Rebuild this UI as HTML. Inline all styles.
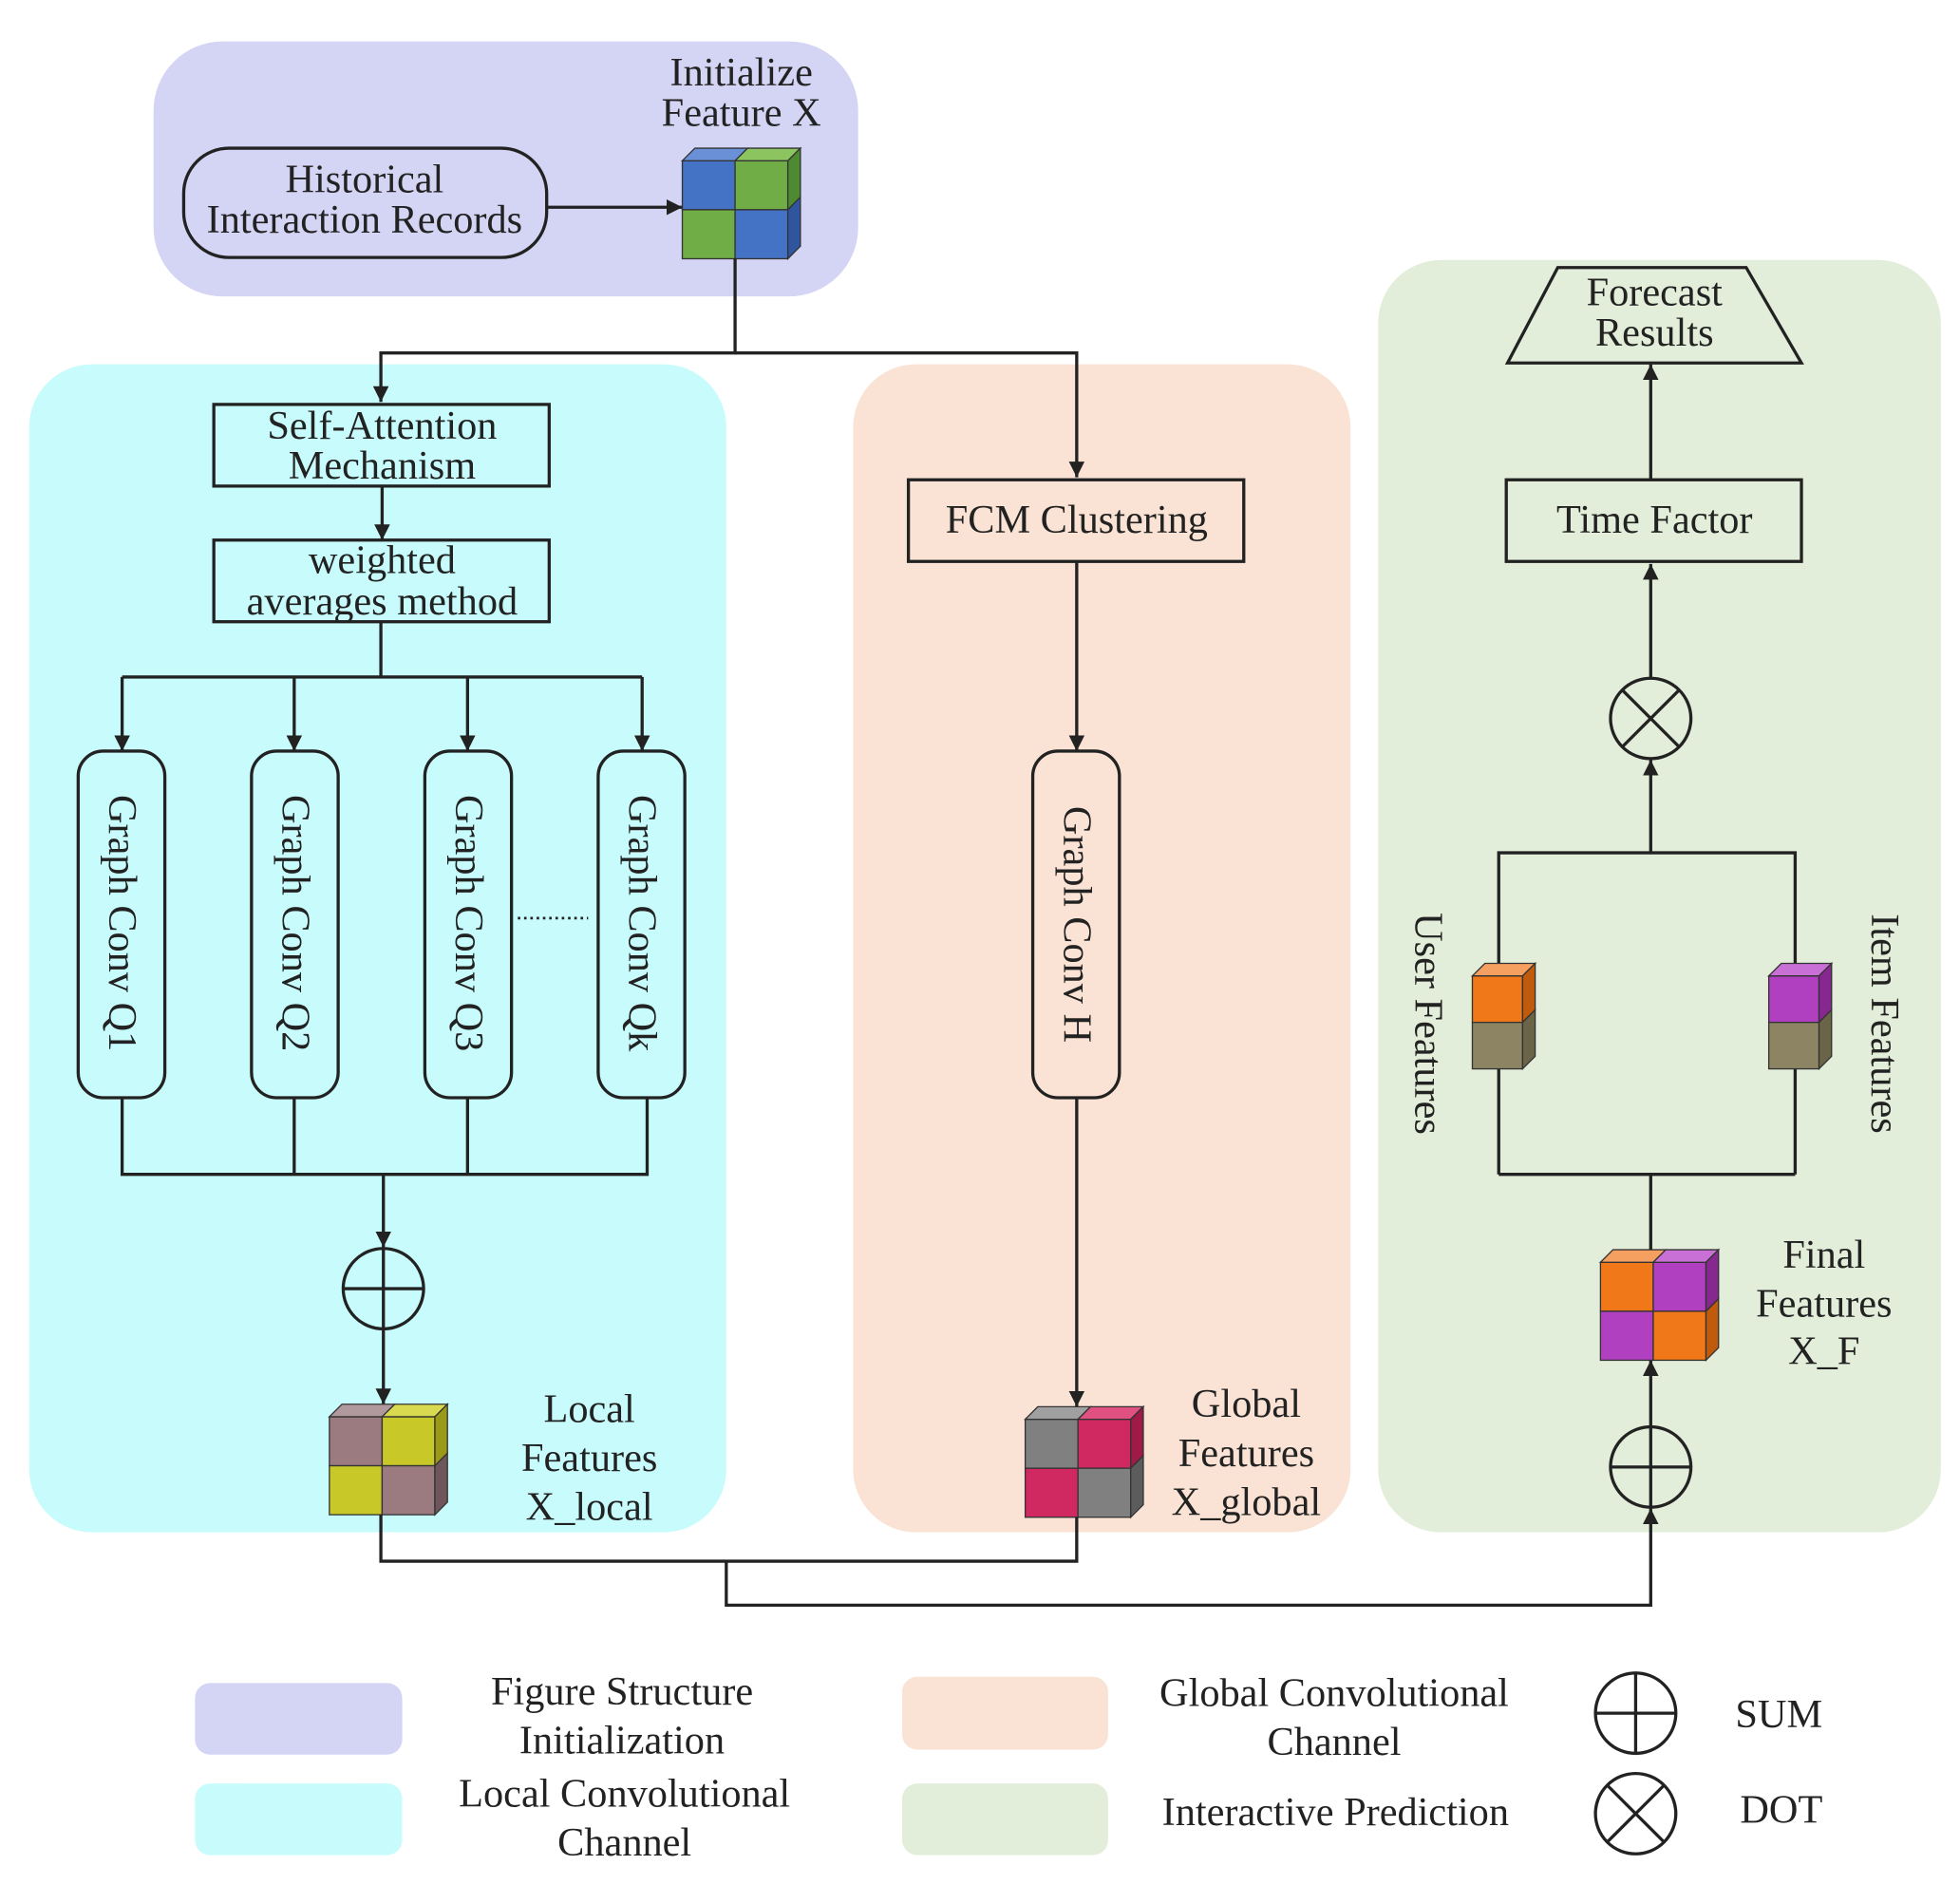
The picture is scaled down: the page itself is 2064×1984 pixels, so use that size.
<!DOCTYPE html>
<html><head><meta charset="utf-8"><style>
html,body{margin:0;padding:0;background:#fff}
svg{display:block}
text{font-family:"Liberation Serif",serif;font-size:32px;fill:#222;text-anchor:middle;dominant-baseline:central}
.s{stroke:#222;stroke-width:2.5;fill:none}
.b{stroke:#222;stroke-width:2.5}
</style></head><body>
<svg width="2064" height="1984" viewBox="0 0 1560 1500" xmlns="http://www.w3.org/2000/svg">
<defs>
<marker id="a" viewBox="0 0 10 10" refX="10" refY="5" markerWidth="5" markerHeight="5" orient="auto"><path d="M0,0L10,5L0,10z" fill="#222"/></marker>
</defs>
<rect x="122" y="33" width="561" height="203" rx="55" fill="#d4d4f4"/>
<rect x="23" y="290" width="555" height="930" rx="50" fill="#c8fcfc"/>
<rect x="679" y="290" width="396" height="930" rx="50" fill="#fae3d4"/>
<rect x="1097" y="207" width="448" height="1013" rx="50" fill="#e2eed9"/>

<rect x="146" y="118" width="289" height="87" rx="36" class="s"/>
<text x="290" y="143">Historical</text><text x="290" y="175">Interaction Records</text>
<line x1="435" y1="165" x2="543" y2="165" class="s" marker-end="url(#a)"/>
<text x="590" y="58">Initialize</text><text x="590" y="90">Feature X</text>
<g transform="translate(543,128)" stroke="#333" stroke-width="1">
<rect x="0" y="0" width="42" height="39" fill="#4472c4"/><rect x="42" y="0" width="42" height="39" fill="#70ad47"/>
<rect x="0" y="39" width="42" height="39" fill="#70ad47"/><rect x="42" y="39" width="42" height="39" fill="#4472c4"/>
<polygon points="0,0 10,-10 52,-10 42,0" fill="#6a90d8"/><polygon points="42,0 52,-10 94,-10 84,0" fill="#8cc460"/>
<polygon points="84,0 94,-10 94,29 84,39" fill="#4e8a32"/><polygon points="84,39 94,29 94,68 84,78" fill="#2f559e"/>
</g>
<polyline points="585,206 585,281 303,281 303,320" class="s" marker-end="url(#a)"/>
<polyline points="585,281 857,281 857,380" class="s" marker-end="url(#a)"/>

<rect x="170" y="322" width="267" height="65" class="s"/>
<text x="304" y="339">Self-Attention</text><text x="304" y="371">Mechanism</text>
<line x1="304" y1="387" x2="304" y2="430" class="s" marker-end="url(#a)"/>
<rect x="170" y="430" width="267" height="65" class="s"/>
<text x="304" y="446">weighted</text><text x="304" y="479">averages method</text>
<line x1="303" y1="495" x2="303" y2="539" class="s"/>
<line x1="97" y1="539" x2="511" y2="539" class="s"/>
<line x1="97" y1="539" x2="97" y2="598" class="s" marker-end="url(#a)"/>
<line x1="234" y1="539" x2="234" y2="598" class="s" marker-end="url(#a)"/>
<line x1="372" y1="539" x2="372" y2="598" class="s" marker-end="url(#a)"/>
<line x1="511" y1="539" x2="511" y2="598" class="s" marker-end="url(#a)"/>
<rect x="62" y="598" width="69" height="276" rx="20" class="s"/>
<rect x="200" y="598" width="69" height="276" rx="20" class="s"/>
<rect x="338" y="598" width="69" height="276" rx="20" class="s"/>
<rect x="476" y="598" width="69" height="276" rx="20" class="s"/>
<text transform="translate(97,735) rotate(90)">Graph Conv Q1</text>
<text transform="translate(235,735) rotate(90)">Graph Conv Q2</text>
<text transform="translate(373,735) rotate(90)">Graph Conv Q3</text>
<text transform="translate(511,735) rotate(90)">Graph Conv Qk</text>
<line x1="412" y1="731" x2="468" y2="731" stroke="#222" stroke-width="2" stroke-dasharray="2,3"/>
<polyline points="97,874 97,935 515,935 515,874" class="s"/>
<line x1="234" y1="874" x2="234" y2="935" class="s"/>
<line x1="372" y1="874" x2="372" y2="935" class="s"/>
<line x1="305" y1="935" x2="305" y2="993" class="s" marker-end="url(#a)"/>
<circle cx="305" cy="1026" r="32" class="s"/><line x1="273" y1="1026" x2="337" y2="1026" class="s"/><line x1="305" y1="994" x2="305" y2="1058" class="s"/>
<line x1="305" y1="1058" x2="305" y2="1118" class="s" marker-end="url(#a)"/>
<g transform="translate(262,1128)" stroke="#333" stroke-width="1">
<rect x="0" y="0" width="42" height="39" fill="#9b7b80"/><rect x="42" y="0" width="42" height="39" fill="#c8c828"/>
<rect x="0" y="39" width="42" height="39" fill="#c8c828"/><rect x="42" y="39" width="42" height="39" fill="#9b7b80"/>
<polygon points="0,0 10,-10 52,-10 42,0" fill="#b09a9e"/><polygon points="42,0 52,-10 94,-10 84,0" fill="#dada50"/>
<polygon points="84,0 94,-10 94,29 84,39" fill="#9a9a18"/><polygon points="84,39 94,29 94,68 84,78" fill="#6e565a"/>
</g>
<text x="469" y="1122">Local</text><text x="469" y="1161">Features</text><text x="469" y="1200">X_local</text>

<rect x="723" y="382" width="267" height="65" class="s"/>
<text x="857" y="414">FCM Clustering</text>
<line x1="857" y1="447" x2="857" y2="598" class="s" marker-end="url(#a)"/>
<rect x="822" y="598" width="69" height="276" rx="20" class="s"/>
<text transform="translate(857,736) rotate(90)">Graph Conv H</text>
<line x1="857" y1="874" x2="857" y2="1120" class="s" marker-end="url(#a)"/>
<g transform="translate(816,1130)" stroke="#333" stroke-width="1">
<rect x="0" y="0" width="42" height="39" fill="#808080"/><rect x="42" y="0" width="42" height="39" fill="#d02860"/>
<rect x="0" y="39" width="42" height="39" fill="#d02860"/><rect x="42" y="39" width="42" height="39" fill="#808080"/>
<polygon points="0,0 10,-10 52,-10 42,0" fill="#a0a0a0"/><polygon points="42,0 52,-10 94,-10 84,0" fill="#e05080"/>
<polygon points="84,0 94,-10 94,29 84,39" fill="#a01a48"/><polygon points="84,39 94,29 94,68 84,78" fill="#5c5c5c"/>
</g>
<text x="992" y="1118">Global</text><text x="992" y="1157">Features</text><text x="992" y="1196">X_global</text>

<polyline points="303,1206 303,1243 857,1243 857,1208" class="s"/>
<polyline points="578,1243 578,1278 1314,1278 1314,1201" class="s" marker-end="url(#a)"/>

<circle cx="1314" cy="1168" r="32" class="s"/><line x1="1282" y1="1168" x2="1346" y2="1168" class="s"/><line x1="1314" y1="1136" x2="1314" y2="1200" class="s"/>
<line x1="1314" y1="1136" x2="1314" y2="1083" class="s" marker-end="url(#a)"/>
<g transform="translate(1274,1005)" stroke="#333" stroke-width="1">
<rect x="0" y="0" width="42" height="39" fill="#f07818"/><rect x="42" y="0" width="42" height="39" fill="#b040c0"/>
<rect x="0" y="39" width="42" height="39" fill="#b040c0"/><rect x="42" y="39" width="42" height="39" fill="#f07818"/>
<polygon points="0,0 10,-10 52,-10 42,0" fill="#f5a060"/><polygon points="42,0 52,-10 94,-10 84,0" fill="#c870d6"/>
<polygon points="84,0 94,-10 94,29 84,39" fill="#86288f"/><polygon points="84,39 94,29 94,68 84,78" fill="#c05a0c"/>
</g>
<text x="1452" y="999">Final</text><text x="1452" y="1038">Features</text><text x="1452" y="1076">X_F</text>
<line x1="1314" y1="995" x2="1314" y2="935" class="s"/>
<polyline points="1193,935 1429,935" class="s"/>
<polyline points="1193,935 1193,679 1429,679 1429,935" class="s"/>
<g transform="translate(1172,777)" stroke="#333" stroke-width="1">
<rect x="0" y="0" width="40" height="37" fill="#f07818"/><rect x="0" y="37" width="40" height="37" fill="#8c8462"/>
<polygon points="0,0 10,-10 50,-10 40,0" fill="#f5a060"/>
<polygon points="40,0 50,-10 50,27 40,37" fill="#c05a0c"/><polygon points="40,37 50,27 50,64 40,74" fill="#6a6448"/>
</g>
<g transform="translate(1408,777)" stroke="#333" stroke-width="1">
<rect x="0" y="0" width="40" height="37" fill="#b040c0"/><rect x="0" y="37" width="40" height="37" fill="#8c8462"/>
<polygon points="0,0 10,-10 50,-10 40,0" fill="#c870d6"/>
<polygon points="40,0 50,-10 50,27 40,37" fill="#86288f"/><polygon points="40,37 50,27 50,64 40,74" fill="#6a6448"/>
</g>
<text transform="translate(1137,815) rotate(90)">User Features</text>
<text transform="translate(1500,815) rotate(90)">Item Features</text>
<line x1="1314" y1="679" x2="1314" y2="605" class="s" marker-end="url(#a)"/>
<circle cx="1314" cy="572" r="32" class="s"/><line x1="1291" y1="549" x2="1337" y2="595" class="s"/><line x1="1337" y1="549" x2="1291" y2="595" class="s"/>
<line x1="1314" y1="540" x2="1314" y2="449" class="s" marker-end="url(#a)"/>
<rect x="1199" y="382" width="235" height="65" class="s"/>
<text x="1317" y="414">Time Factor</text>
<line x1="1314" y1="382" x2="1314" y2="290" class="s" marker-end="url(#a)"/>
<polygon points="1240,213 1390,213 1434,289 1200,289" class="s"/>
<text x="1317" y="233">Forecast</text><text x="1317" y="265">Results</text>

<rect x="155" y="1340" width="165" height="57" rx="12" fill="#d4d4f4"/>
<rect x="155" y="1420" width="165" height="57" rx="12" fill="#c8fcfc"/>
<rect x="718" y="1335" width="164" height="58" rx="12" fill="#fae3d4"/>
<rect x="718" y="1420" width="164" height="57" rx="12" fill="#e2eed9"/>
<text x="495" y="1347">Figure Structure</text><text x="495" y="1386">Initialization</text>
<text x="497" y="1428">Local Convolutional</text><text x="497" y="1467">Channel</text>
<text x="1062" y="1348">Global Convolutional</text><text x="1062" y="1387">Channel</text>
<text x="1063" y="1443">Interactive Prediction</text>
<circle cx="1302" cy="1364" r="32" class="s"/><line x1="1270" y1="1364" x2="1334" y2="1364" class="s"/><line x1="1302" y1="1332" x2="1302" y2="1396" class="s"/>
<text x="1416" y="1365">SUM</text>
<circle cx="1302" cy="1444" r="32" class="s"/><line x1="1279" y1="1421" x2="1325" y2="1467" class="s"/><line x1="1325" y1="1421" x2="1279" y2="1467" class="s"/>
<text x="1418" y="1441">DOT</text>
</svg>
</body></html>
